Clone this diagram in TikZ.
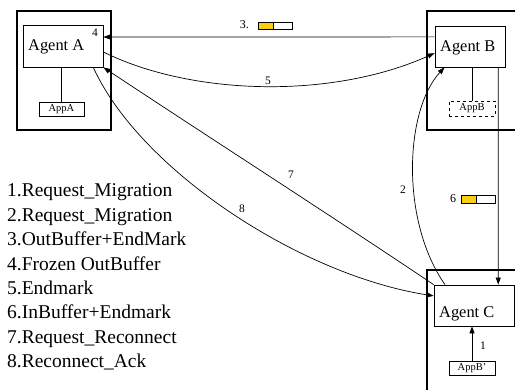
\documentclass[tikz,border=0pt]{standalone}
\usepackage{fontspec}
\setmainfont{Liberation Serif}
\usetikzlibrary{arrows.meta,calc}
\definecolor{bufyellow}{RGB}{250,206,20}
\begin{document}
\begin{tikzpicture}[x=1pt,y=-1pt,
  host/.style={draw,line width=1.3pt},
  agentbox/.style={draw,line width=0.8pt,inner sep=0pt},
  agtext/.style={inner sep=0pt,font=\fontsize{16.4}{18}\selectfont},
  appbox/.style={draw,line width=0.6pt,inner sep=0pt,font=\fontsize{10.5}{12}\selectfont,
    minimum width=46,minimum height=14},
  link/.style={line width=0.7pt},
  arr/.style={link,-{Triangle[length=7pt,width=5pt]}},
  lbl/.style={inner sep=0pt,font=\fontsize{11.5}{13}\selectfont},
  legend/.style={inner sep=0pt,anchor=base west,font=\fontsize{19.5}{24}\selectfont},
  buf/.style={draw,line width=0.6pt,inner sep=0pt,minimum width=34,minimum height=7,
    path picture={
      \fill[bufyellow] (path picture bounding box.north west) rectangle
        ($(path picture bounding box.south west)!0.44!(path picture bounding box.south east)$);
      \draw[line width=0.6pt] ($(path picture bounding box.north west)!0.44!(path picture bounding box.north east)$)
        -- ($(path picture bounding box.south west)!0.44!(path picture bounding box.south east)$);
    }},
]
\clip (0,0) rectangle (515,390);
\fill[white] (0,0) rectangle (515,390);

% hosts
\draw[host] (17,11) rectangle (111,130);
\draw[host] (427,11) rectangle (535,130);
\draw[host] (427,270) rectangle (535,400);

% agents
\node[agentbox,minimum width=80,minimum height=42] (agA) at (63,46) {};
\node[agtext,anchor=base west] (tA) at (28,51) {Agent A};
\node[agentbox,minimum width=70,minimum height=41] (agB) at (470,46.5) {};
\node[agtext,anchor=base west] (tB) at (440,51.5) {Agent B};
\node[agentbox,minimum width=80,minimum height=41] (agC) at (474,305.5) {};
\node[agtext,anchor=base west] (tC) at (439,318) {Agent C};

% applications
\node[appbox,minimum width=45] (appA) at (61.5,109) {AppA};
\node[appbox,dashed,minimum height=15] (appB) at (472,108.5) {AppB};
\node[appbox] (appBp) at (472,368) {AppB'};

\draw[link] (appA.north |- agA.south) -- (appA.north);
\draw[link] (appB.north |- agB.south) -- (appB.north);
\draw[arr] (appBp.north) -- (appBp.north |- agC.south);
\node[lbl] (l1) at (483,346) {1};

% 3: buffer moved back to A
\draw[arr] ($(agB.north west)!0.27!(agB.south west)$) -- ($(agA.north east)!0.29!(agA.south east)$);
\node[lbl] (l4) at (95,33) {4};
\node[buf] (buf3) at (275,25.5) {};
\node[lbl,anchor=east,font=\fontsize{12}{13}\selectfont] (l3) at (249,24.5) {3.};

% 5: endmark A -> B
\draw[arr] ($(agA.north east)!0.64!(agA.south east)$)
  .. controls (190,95) and (330,100) .. ($(agB.north west)!0.66!(agB.south west)$);
\node[lbl] (l5) at (268,81) {5};

% 2: request from C to B
\draw[arr] ($(agC.north west)!0.14!(agC.north east)$)
  .. controls (400,220) and (405,110) .. ($(agB.south west)!0.14!(agB.south east)$);
\node[lbl] (l2) at (403,190) {2};

% 6: inbuffer B -> C
\draw[arr] ($(agB.south west)!0.9!(agB.south east)$) -- ($(agC.north west)!0.8!(agC.north east)$);
\node[buf,minimum height=8] (buf6) at (478,199) {};
\node[lbl,font=\fontsize{12}{13}\selectfont] (l6) at (453,199) {6};

% 7: reconnect request C -> A
\draw[arr] (agC.north west) .. controls (330,215) and (210,138) .. (agA.south east);
\node[lbl] (l7) at (291,175) {7};

% 8: acknowledgement A -> C
\draw[arr] ($(agA.south west)!0.875!(agA.south east)$)
  .. controls (140,170) and (300,275) .. ($(agC.north west)!0.27!(agC.south west)$);
\node[lbl] (l8) at (242,209) {8};

% legend
\foreach \t [count=\i] in {1.Request\_Migration,2.Request\_Migration,3.OutBuffer+EndMark,
  4.Frozen OutBuffer,5.Endmark,6.InBuffer+Endmark,7.Request\_Reconnect,8.Reconnect\_Ack}
  \node[legend] (leg\i) at (7,{197+(\i-1)*24.4}) {\t};
\end{tikzpicture}
\end{document}
